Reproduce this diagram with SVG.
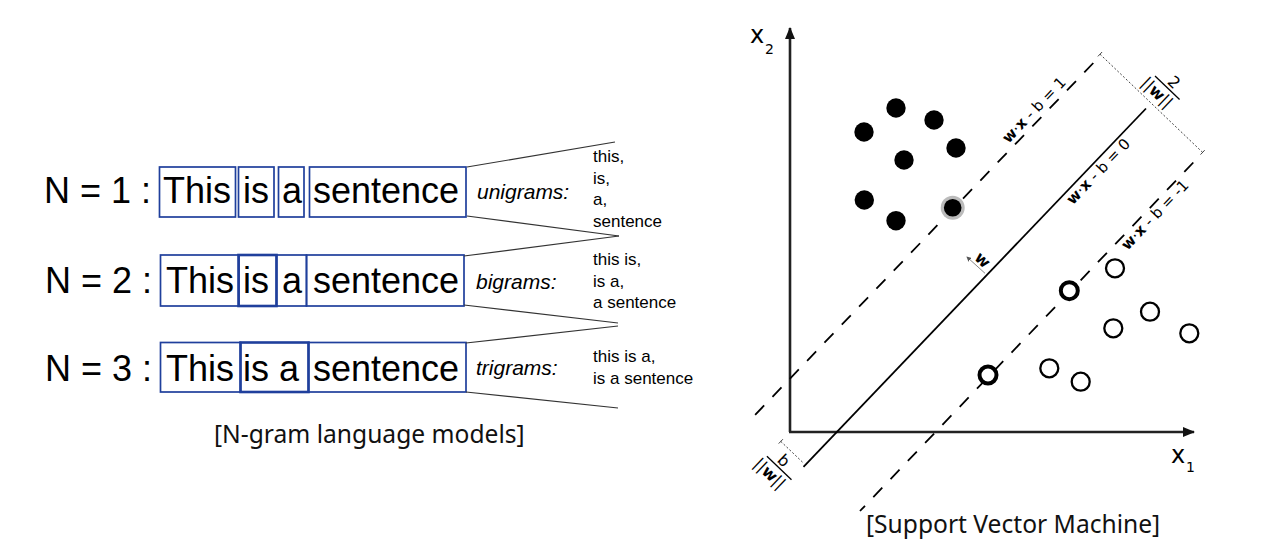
<svg xmlns="http://www.w3.org/2000/svg" width="1263" height="539" viewBox="0 0 1263 539">
<style>
.big{font-family:"Liberation Sans",Arial,sans-serif;font-size:36px;fill:#000}
.lab{font-family:"Liberation Sans",Arial,sans-serif;font-size:21px;font-style:italic;fill:#000}
.lst{font-family:"Liberation Sans",Arial,sans-serif;font-size:17px;fill:#000}
.box{fill:none;stroke:#1f3f9c;stroke-width:1.7}
.boxb{fill:none;stroke:#1f3f9c;stroke-width:2.6}
.conn{stroke:#333;stroke-width:1.2;fill:none}
.cap{font-family:"Noto Sans","Open Sans",sans-serif;font-size:24.6px;fill:#111}
.ax{stroke:#222;stroke-width:2.6;fill:none}
.solid{stroke:#000;stroke-width:1.8;fill:none}
.dash{stroke:#000;stroke-width:1.8;fill:none;stroke-dasharray:13 12}
.dot{stroke:#444;stroke-width:1;fill:none;stroke-dasharray:2 2}
.tick{stroke:#444;stroke-width:1;fill:none}
.eq{font-family:"DejaVu Sans",sans-serif;font-size:15px;fill:#000}
.fr{font-family:"DejaVu Sans",sans-serif;font-size:16px;fill:#000}
.axl{font-family:"DejaVu Sans",sans-serif;font-size:24px;fill:#000}
.sub{font-family:"DejaVu Sans",sans-serif;font-size:14px;fill:#000}
.pos{fill:#000}
.neg{fill:#fff;stroke:#000;stroke-width:2.3}
.negb{fill:#fff;stroke:#000;stroke-width:4}
</style>
<defs>
<marker id="ah" viewBox="0 0 12 10" refX="11" refY="5" markerWidth="12" markerHeight="10" markerUnits="userSpaceOnUse" orient="auto">
<path d="M0,0 L12,5 L0,10 Z" fill="#111"/>
</marker>
<marker id="wh" viewBox="0 0 6 6" refX="5" refY="3" markerWidth="5" markerHeight="5" markerUnits="userSpaceOnUse" orient="auto">
<path d="M0,0 L6,3 L0,6 Z" fill="#555"/>
</marker>
</defs>

<!-- N-gram panel -->
<g id="row1">
<text class="big" x="44" y="203">N = 1 :</text>
<rect class="box" x="159.5" y="167" width="76" height="50"/>
<rect class="box" x="238.5" y="167" width="35.5" height="50"/>
<rect class="box" x="278.5" y="167" width="25.5" height="50"/>
<rect class="box" x="309.5" y="167" width="156.5" height="50"/>
<text class="big" x="163" y="203">This</text>
<text class="big" x="243" y="203">is</text>
<text class="big" x="282" y="203">a</text>
<text class="big" x="313" y="203">sentence</text>
<text class="lab" x="477" y="199">unigrams:</text>
<text class="lst" x="593" y="162">this,</text>
<text class="lst" x="593" y="184">is,</text>
<text class="lst" x="593" y="205">a,</text>
<text class="lst" x="593" y="227">sentence</text>
</g>
<g id="row2">
<text class="big" x="45" y="293">N = 2 :</text>
<rect class="box" x="160.5" y="255" width="78.5" height="51"/>
<rect class="box" x="276.5" y="255" width="30" height="51"/>
<rect class="box" x="306.5" y="255" width="157.5" height="51"/>
<rect class="boxb" x="238.5" y="255" width="38" height="51"/>
<text class="big" x="166" y="293">This</text>
<text class="big" x="243" y="293">is</text>
<text class="big" x="282" y="293">a</text>
<text class="big" x="313" y="293">sentence</text>
<text class="lab" x="476" y="289">bigrams:</text>
<text class="lst" x="593" y="265">this is,</text>
<text class="lst" x="593" y="287">is a,</text>
<text class="lst" x="593" y="308">a sentence</text>
</g>
<g id="row3">
<text class="big" x="45" y="381">N = 3 :</text>
<rect class="box" x="160.5" y="342.5" width="80" height="49.5"/>
<rect class="box" x="308.5" y="342.5" width="157.5" height="49.5"/>
<rect class="boxb" x="240.5" y="342.5" width="68" height="49.5"/>
<text class="big" x="166" y="381">This</text>
<text class="big" x="243" y="381">is a</text>
<text class="big" x="313" y="381">sentence</text>
<text class="lab" x="476" y="375">trigrams:</text>
<text class="lst" x="593" y="362">this is a,</text>
<text class="lst" x="593" y="384">is a sentence</text>
</g>
<g id="ngram-connectors">
<line class="conn" x1="467" y1="167" x2="615" y2="142"/>
<line class="conn" x1="467" y1="216" x2="619" y2="236"/>
<line class="conn" x1="464" y1="256" x2="619" y2="236"/>
<line class="conn" x1="464" y1="305" x2="618" y2="323"/>
<line class="conn" x1="466" y1="343" x2="618" y2="326"/>
<line class="conn" x1="466" y1="392" x2="618" y2="408"/>
</g>
<text id="cap-left" class="cap" x="214" y="443">[N-gram language models]</text>

<!-- SVM panel -->
<g id="axes">
<line class="ax" x1="790" y1="432" x2="790" y2="28" marker-end="url(#ah)"/>
<line class="ax" x1="789" y1="432" x2="1194" y2="432" marker-end="url(#ah)"/>
<text class="axl" x="750" y="43">x</text><text class="sub" x="765" y="54">2</text>
<text class="axl" x="1171" y="463">x</text><text class="sub" x="1186" y="472">1</text>
</g>
<g id="svm-lines">
<line class="solid" x1="1146" y1="108.5" x2="803.5" y2="466.8"/>
<line class="dash" x1="1093.3" y1="63" x2="755" y2="415"/>
<line class="dash" x1="1193.3" y1="162.5" x2="860" y2="511"/>
<line class="dot" x1="1100" y1="54.2" x2="1202.6" y2="152.4"/>
<line class="tick" x1="1097.9" y1="56.4" x2="1102.1" y2="52"/>
<line class="tick" x1="1200.5" y1="154.6" x2="1204.7" y2="150.2"/>
<line class="dot" x1="780.8" y1="441.4" x2="803" y2="462.6"/>
<line class="tick" x1="778.7" y1="443.6" x2="782.9" y2="439.2"/>
<line x1="985" y1="273.3" x2="967" y2="257" stroke="#888" stroke-width="1" marker-end="url(#wh)"/>
</g>
<g id="labels">
<g transform="translate(1011.3,146.8) rotate(-46.26)"><text class="eq" x="0" y="-4"><tspan font-weight="bold">w</tspan>·<tspan font-weight="bold">x</tspan> - b = 1</text></g>
<g transform="translate(1062.6,195.9) rotate(-46.26)"><text class="eq" x="0" y="14"><tspan font-weight="bold">w</tspan>·<tspan font-weight="bold">x</tspan> - b = 0</text></g>
<g transform="translate(1117.3,241.4) rotate(-46.26)"><text class="eq" x="0" y="14"><tspan font-weight="bold">w</tspan>·<tspan font-weight="bold">x</tspan> - b = -1</text></g>
<g transform="translate(1167.3,87.7) rotate(43.74)">
<line x1="-17" y1="0" x2="17" y2="0" stroke="#000" stroke-width="1.3"/>
<text class="fr" x="1" y="-3" text-anchor="middle">2</text>
<text class="fr" x="-4" y="16" text-anchor="middle">||<tspan font-weight="bold">w</tspan>||</text>
</g>
<g transform="translate(779.2,468) rotate(43.74)">
<line x1="-17" y1="0" x2="17" y2="0" stroke="#000" stroke-width="1.3"/>
<text class="fr" x="-2" y="-3" text-anchor="middle">b</text>
<text class="fr" x="-3" y="16" text-anchor="middle">||<tspan font-weight="bold">w</tspan>||</text>
</g>
<g transform="translate(981.7,261) rotate(43.74)"><text class="fr" x="0" y="4" text-anchor="middle" font-weight="bold">w</text></g>
</g>
<g id="class-pos">
<circle class="pos" cx="896" cy="108" r="9.7"/>
<circle class="pos" cx="864" cy="132" r="9.7"/>
<circle class="pos" cx="934" cy="120" r="9.7"/>
<circle class="pos" cx="904" cy="160" r="9.7"/>
<circle class="pos" cx="956" cy="148" r="9.7"/>
<circle class="pos" cx="864.3" cy="200" r="9.7"/>
<circle class="pos" cx="896" cy="220.7" r="9.7"/>
<circle cx="952.7" cy="207.7" r="12" fill="#bbb"/>
<circle class="pos" cx="952.7" cy="207.7" r="8.8"/>
</g>
<g id="class-neg">
<circle class="neg" cx="1115" cy="268.3" r="9"/>
<circle class="neg" cx="1150" cy="311.7" r="9"/>
<circle class="neg" cx="1113.3" cy="328.3" r="9"/>
<circle class="neg" cx="1189.3" cy="333.3" r="9"/>
<circle class="neg" cx="1049.3" cy="368.3" r="9"/>
<circle class="neg" cx="1080.7" cy="381.7" r="9"/>
<circle class="negb" cx="1069.3" cy="290.7" r="8.5" fill="none"/>
<circle class="negb" cx="988" cy="375" r="8.5" fill="none"/>
</g>
<text id="cap-right" class="cap" x="866" y="533">[Support Vector Machine]</text>
</svg>
